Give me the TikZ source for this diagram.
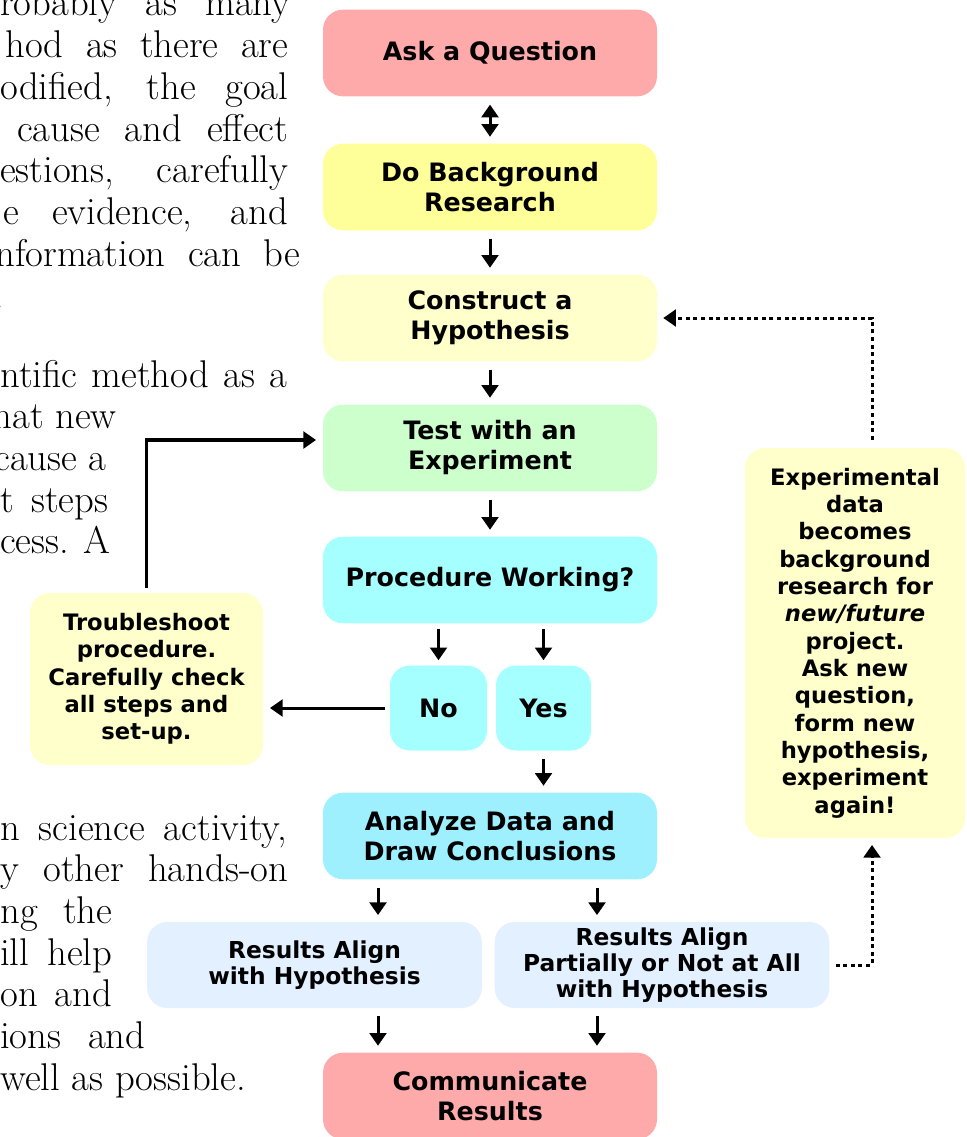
\documentclass[tikz,border=0pt]{standalone}
\usepackage{fontspec}
\usepackage{tikz}
\usepackage{xcolor}
\usetikzlibrary{arrows.meta,calc}

\newfontfamily\flowfont{DejaVu Sans}
\newcommand{\bigtxt}{\flowfont\bfseries\fontsize{19}{22.5}\selectfont}
\newcommand{\restxt}{\flowfont\bfseries\fontsize{17.5}{19.5}\selectfont}
\newcommand{\smalltxt}{\flowfont\bfseries\fontsize{17}{20.5}\selectfont}
\newcommand{\paratxt}{\fontsize{29}{31}\selectfont}

\definecolor{askpink}{HTML}{FFAAAA}
\definecolor{bgyellow}{HTML}{FFFF99}
\definecolor{paleyellow}{HTML}{FFFFCC}
\definecolor{testgreen}{HTML}{CCFFCC}
\definecolor{proccyan}{HTML}{A6FFFF}
\definecolor{anacyan}{HTML}{9FF0FF}
\definecolor{resblue}{HTML}{E2F0FF}

\begin{document}
\begin{tikzpicture}[x=0.75pt,y=-0.75pt,
	box/.style={rounded corners=15pt, minimum width=250.5pt, minimum height=65pt,
		align=center, inner sep=2pt, font=\bigtxt},
	resbox/.style={box, fill=resblue, minimum width=251pt, minimum height=64.5pt, font=\restxt},
	notebox/.style={box, fill=paleyellow, font=\smalltxt},
	para/.style={anchor=base west, inner sep=0pt, font=\paratxt},
	arr/.style={line width=2.25pt, -{Triangle[width=12.5pt,length=9.5pt]},
		shorten <=6pt, shorten >=5pt},
	dots/.style={line width=2.25pt, dash pattern=on 3pt off 2.7pt,
		-{Triangle[width=12.5pt,length=9.5pt]}}]
	%\draw[help lines] (0,0) grid (966,1137);
	\useasboundingbox (0,0) rectangle (966,1137);

	% text running round the chart
	\node[para] (p1) at (0,16) {\makebox[217.5pt][s]{robably as many}};
	\node[para] (p2) at (5,58) {\makebox[212.25pt][s]{hod as there are}};
	\node[para] (p3) at (0,100) {\makebox[216pt][s]{odified, the goal}};
	\node[para] (p4) at (17,142) {\makebox[203.25pt][s]{cause and effect}};
	\node[para] (p5) at (0,183) {\makebox[216pt][s]{estions, carefully}};
	\node[para] (p6) at (3,225) {\makebox[213.75pt][s]{e evidence, and}};
	\node[para] (p7) at (-5,267) {\makebox[228.75pt][s]{nformation can be}};
	\node[para] (p8) at (-6,308.7) {.};
	\node[para] (p9) at (0,387) {\makebox[215.25pt][s]{ntific method as a}};
	\node[para, anchor=base east] (p10) at (117,428.7) {hat new};
	\node[para, anchor=base east] (p11) at (107,470.4) {cause a};
	\node[para] (p12) at (0,512) {\makebox[81pt][s]{t steps}};
	\node[para] (p13) at (0,553.8) {\makebox[82.5pt][s]{cess. A}};
	\node[para] (p14) at (0,840) {\makebox[215.25pt][s]{n science activity,}};
	\node[para] (p15) at (0,881.7) {\makebox[216pt][s]{y other hands-on}};
	\node[para] (p16) at (0,923.4) {\makebox[84pt][s]{ng the}};
	\node[para] (p17) at (0,965) {\makebox[84pt][s]{ill help}};
	\node[para] (p18) at (0,1006.8) {\makebox[84pt][s]{on and}};
	\node[para] (p19) at (0,1048.5) {\makebox[108.75pt][s]{ions and}};
	\node[para] (p20) at (0,1090.2) {well as possible.};

	% the steps
	\node[box, fill=askpink] (ask) at (490,53) {Ask a Question};
	\node[box, fill=bgyellow] (bg) at (490,187) {Do Background\\Research};
	\node[box, fill=paleyellow] (hyp) at (490,318) {Construct a\\Hypothesis};
	\node[box, fill=testgreen] (test) at (490,448) {Test with an\\Experiment};
	\node[box, fill=proccyan] (proc) at (490,580) {Procedure Working?};
	\node[box, fill=proccyan, minimum width=72.75pt, minimum height=63.75pt] (no) at (438.5,708) {No};
	\node[box, fill=proccyan, minimum width=71.25pt, minimum height=63.75pt] (yes) at (543.5,708) {Yes};
	\node[box, fill=anacyan] (ana) at (490,836) {Analyze Data and\\Draw Conclusions};
	\node[resbox] (res1) at (314.5,965) {Results Align\\with Hypothesis};
	\node[resbox] (res2) at (662,965) {Results Align\\Partially or Not at All\\with Hypothesis};
	\node[box, fill=askpink] (comm) at (490,1096) {Communicate\\Results};
	\node[notebox, minimum width=174.75pt, minimum height=129pt] (trouble) at (146.5,679)
		{Troubleshoot\\procedure.\\Carefully check\\all steps and\\set-up.};
	\node[notebox, minimum width=165pt, minimum height=292.5pt] (exp) at (855,643)
		{Experimental\\data\\becomes\\background\\research for\\\textit{new/future}\\project.\\Ask new\\question,\\form new\\hypothesis,\\experiment\\again!};

	% connectors
	\draw[arr, {Triangle[width=12.5pt,length=9.5pt]}-{Triangle[width=12.5pt,length=9.5pt]}] (ask) -- (bg);
	\foreach \a/\b in {bg/hyp, hyp/test, test/proc}{\draw[arr] (\a) -- (\b);}
	\foreach \v in {no,yes}{\draw[arr, shorten <=3.75pt, shorten >=3.75pt] (proc.south -| \v) -- (\v);}
	\draw[arr] (yes) -- (yes |- ana.north);
	\coordinate (aL) at ($(ana.south)+(-112,0)$);
	\coordinate (aR) at ($(ana.south)+(107,0)$);
	\foreach \c in {aL,aR}{
		\draw[arr] (\c) -- (\c |- res1.north);
		\draw[arr] (\c |- res1.south) -- (\c |- comm.north);
	}
	\draw[arr, shorten <=3.75pt] (no.west) -- (no.west -| trouble.east);
	\draw[arr, line width=2.6pt, shorten <=3.75pt] (trouble.north) |- ([yshift=6pt]test.west);
	\draw[dots, shorten <=4.5pt, shorten >=5pt] (res2.east) -| ([xshift=12.75pt]exp.south);
	\draw[dots, shorten <=6pt, shorten >=4.5pt] ([xshift=12.75pt]exp.north) |- (hyp.east);
\end{tikzpicture}
\end{document}
